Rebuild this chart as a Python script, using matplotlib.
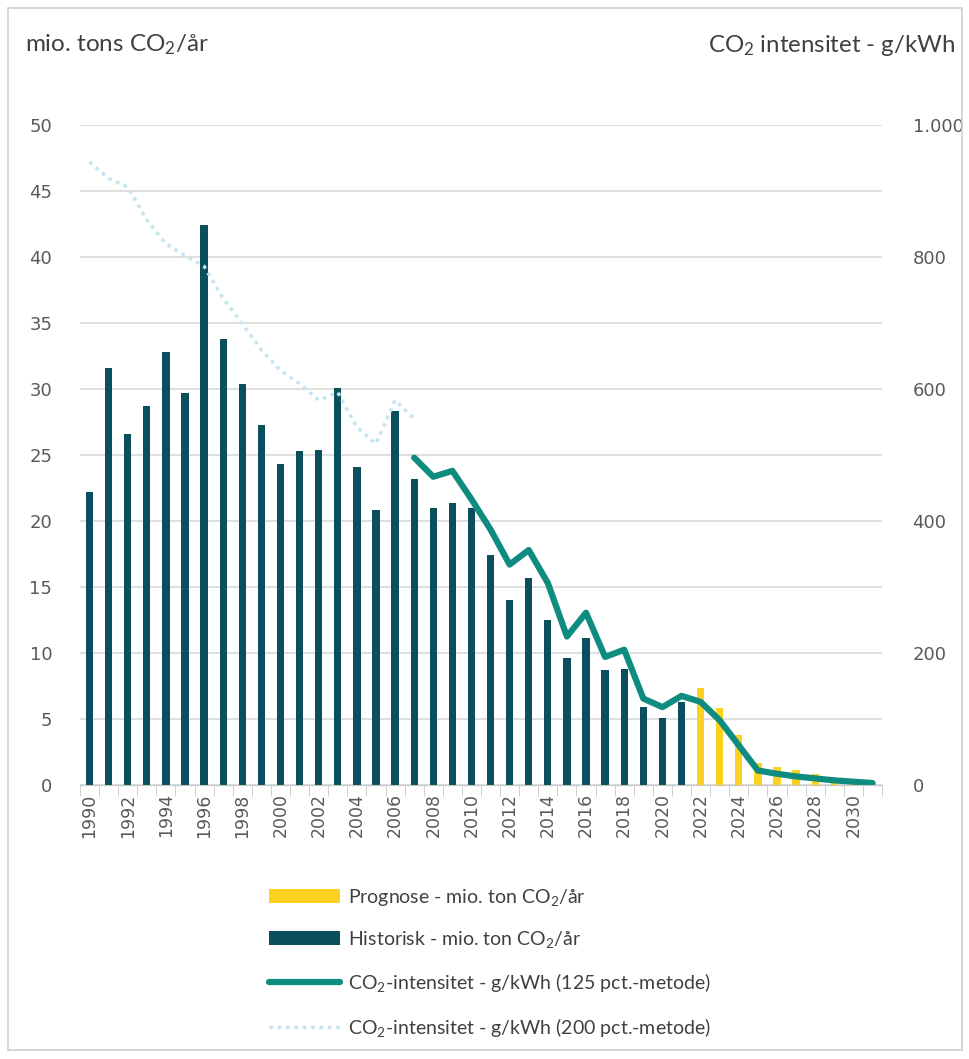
import matplotlib
matplotlib.use("Agg")
import matplotlib.pyplot as plt
from matplotlib.ticker import FuncFormatter, MultipleLocator
from matplotlib.patches import Rectangle

plt.rcParams['font.family'] = ['Lato', 'DejaVu Sans']
plt.rcParams['mathtext.default'] = 'regular'

# historisk udledning, mio. ton CO2/år
hist_years = list(range(1990, 2022))
hist_values = [22.2, 31.6, 26.6, 28.7, 32.8, 29.7, 42.4, 33.8, 30.4, 27.3,
               24.3, 25.3, 25.4, 30.1, 24.1, 20.8, 28.3, 23.2, 21.0, 21.4,
               21.0, 17.4, 14.0, 15.7, 12.5, 9.6, 11.1, 8.7, 8.8, 5.9,
               5.1, 6.3]

# prognose
prog_years = list(range(2022, 2032))
prog_values = [7.35, 5.8, 3.77, 1.7, 1.38, 1.12, 0.83, 0.56, 0.35, 0.2]

# CO2-intensitet g/kWh, 125 pct.-metode
int125_years = list(range(2007, 2032))
int125_values = [496, 467, 476, 433, 387, 334, 356, 306, 225, 261, 194, 205,
                 131, 118, 135, 126, 98, 60, 22, 17, 13, 10, 7, 5, 3]

# CO2-intensitet g/kWh, 200 pct.-metode
int200_years = list(range(1990, 2008))
int200_values = [944, 919, 906, 856, 820, 802, 786, 737, 699, 659, 628, 608,
                 583, 595, 542, 517, 583, 555]

c_hist = '#0b4f5c'
c_prog = '#fdd11f'
c_125 = '#0f8c80'
c_200 = '#c4e4f0'
grey = '#595959'

fig = plt.figure(figsize=(9.69, 10.59), dpi=100)
fig.patches.append(Rectangle((8 / 969, 9 / 1059), 954 / 969, 1042 / 1059,
                             transform=fig.transFigure, fill=False,
                             edgecolor='#d0d0d0', lw=1.2))

ax = fig.add_axes([80 / 969, 1 - 785 / 1059, 802 / 969, 660 / 1059])
ax2 = ax.twinx()

ax.bar(prog_years, prog_values, width=0.38, color=c_prog,
       label='Prognose - mio. ton CO$_2$/år', zorder=3)
ax.bar(hist_years, hist_values, width=0.38, color=c_hist,
       label='Historisk - mio. ton CO$_2$/år', zorder=3)

ax2.plot(int125_years, int125_values, color=c_125, lw=4.5,
         solid_capstyle='round', solid_joinstyle='round',
         label='CO$_2$-intensitet - g/kWh (125 pct.-metode)')
ax2.plot(int200_years, int200_values, color=c_200, lw=2.5, ls=(0, (1, 1.4)),
         label='CO$_2$-intensitet - g/kWh (200 pct.-metode)')

ax.set_ylim(0, 50)
ax2.set_ylim(0, 1000)
ax.set_xlim(1989.5, 2031.5)
ax.yaxis.set_major_locator(MultipleLocator(5))
ax2.yaxis.set_major_locator(MultipleLocator(200))
ax2.yaxis.set_major_formatter(FuncFormatter(lambda v, p: f'{int(v):,}'.replace(',', '.')))
ax.grid(axis='y', color='#d9d9d9', lw=1.2, zorder=0)
ax.set_axisbelow(True)

ax.set_xticks(range(1990, 2031, 2))
ax.set_xticks([y + 0.5 for y in range(1989, 2032)], minor=True)
ax.tick_params(axis='x', which='major', length=0, labelrotation=90,
               labelsize=12.5, labelcolor=grey, pad=6)
ax.tick_params(axis='x', which='minor', length=8, color='#c8c8c8')
ax.tick_params(axis='y', length=0, labelsize=13, labelcolor=grey, pad=20)
ax2.tick_params(axis='y', length=0, labelsize=13, labelcolor=grey, pad=22)
for lab in ax.get_xticklabels() + ax.get_yticklabels() + ax2.get_yticklabels():
    lab.set_family('DejaVu Sans')

for a in (ax, ax2):
    for s in ('top', 'left', 'right'):
        a.spines[s].set_visible(False)
    a.spines['bottom'].set_color('#c8c8c8')

fig.text(25 / 969, 1 - 45 / 1059, 'mio. tons CO$_2$/år', fontsize=17.5,
         color='#404040', va='center', ha='left')
fig.text(955 / 969, 1 - 45 / 1059, 'CO$_2$ intensitet - g/kWh', fontsize=17.3,
         color='#404040', va='center', ha='right')

h1, l1 = ax.get_legend_handles_labels()
h2, l2 = ax2.get_legend_handles_labels()
leg = fig.legend(h1 + h2, l1 + l2, loc='upper left',
                 bbox_to_anchor=(251 / 969, 1 - 869 / 1059), frameon=False,
                 fontsize=14, labelcolor='#404040', handlelength=3.7,
                 labelspacing=1.1, handletextpad=0.4)

fig.savefig('out.png', dpi=100)
